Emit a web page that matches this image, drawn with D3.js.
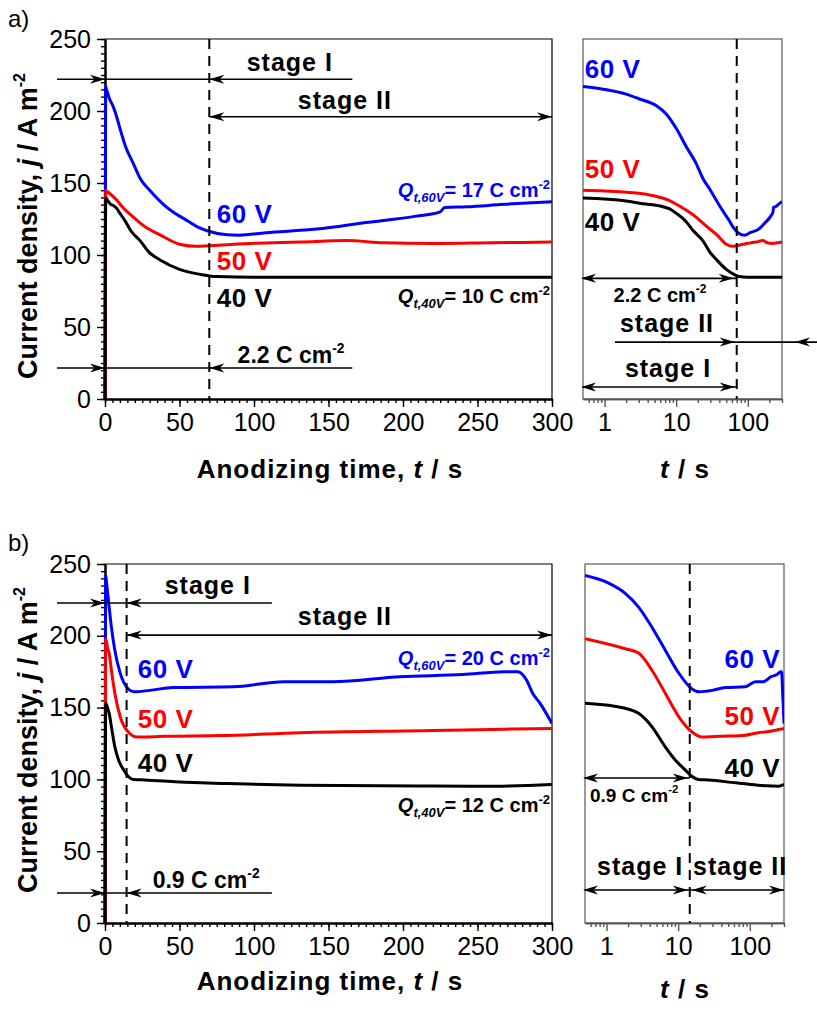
<!DOCTYPE html>
<meta charset="utf-8">
<style>
body { margin: 0; background: #fff; }
svg text { font-family: "Liberation Sans", Arial, sans-serif; }
</style>
<script src="https://d3js.org/d3.v7.min.js"></script>
<div id="chart"></div>
<script>

// ---------------------------//
//       DATA  [t (s), j (A m-2)]
// ---------------------------//
// a) series
var a60 = [[0,0],[0.5,217],[1,215],[2,211.7],[3,208.5],[5.3,203.6],[7.3,197.8],[10,188],[13.9,175],[18.8,164],[23.7,153],[30,145],[40.5,134],[50,127],[55,124],[62,119.5],[69.5,116.5],[82,114],[90,113.8],[108,115.5],[142,118],[175,122.5],[209,127],[225,130],[228,133],[243,133.5],[265,135],[280,136],[300,137]];
var a50 = [[0,0],[0.5,145],[1,144.5],[3.4,142.5],[5,141],[8.1,137.8],[12,133],[17.2,128],[26.4,120],[37,114],[50,107.5],[61,106],[70,106.5],[97,108],[131,109],[162,110],[187,108.5],[220,108],[260,108.5],[300,109]];
var a40 = [[0,0],[0.5,139.5],[2,137.5],[3.4,135.6],[6,134],[8.1,132],[10,129],[13.9,123],[17.2,117],[23.5,110],[29.5,102],[37,96.5],[50,90],[64,86.5],[75,85],[100,84.5],[150,84.5],[200,84.5],[250,84.5],[300,84.5]];
// b) series
var b60 = [[0,0],[0.5,242],[1.07,236.7],[1.82,229.6],[2.8,220],[4.3,206],[6.6,190],[10.2,174],[15.6,163],[19.4,161],[30,162],[45.6,164],[86,164.5],[120,168],[153,168],[198,171.5],[240,173],[268,175],[277,175],[283,169],[287,160],[292,153],[300,139]];
var b50 = [[0,0],[0.5,198],[1.82,191],[2.8,188],[4.3,176],[6.6,160],[10.2,143.6],[15.6,133],[21.6,129.5],[40,130],[78,130.5],[131,132.5],[220,134],[268,135],[300,135.5]];
var b40 = [[0,0],[0.5,153],[1.82,149.5],[2.8,146],[4.3,136.7],[6.6,122.7],[9.1,113.5],[12.6,106.5],[15.6,102],[19,100],[26.6,99.6],[64,97.6],[78,97.2],[131,96],[220,95.4],[254,95.2],[300,96.5]];

var seriesColors = ["#0000ff", "#ff0000", "#000000"];   // 60 V, 50 V, 40 V
var voltLabels = ["60 V", "50 V", "40 V"];

var xTicks = [0, 50, 100, 150, 200, 250, 300];
var yTicks = [0, 50, 100, 150, 200, 250];
var logTicks = [1, 10, 100];
var logMinor = [0.6, 0.7, 0.8, 0.9, 2, 3, 4, 5, 6, 7, 8, 9, 20, 30, 40, 50, 60, 70, 80, 90, 200, 300];

var stageEndA = 70;     // end of stage I, a)
var stageEndB = 14.5;   // end of stage I, b)

var svg = d3.select("#chart").append("svg")
    .attr("width", 817)
    .attr("height", 1012);

var FONT = '"Liberation Sans", Arial, sans-serif';

function styleAxis(sel, color) {
  sel.attr("font-family", FONT).attr("font-size", 25);
  sel.selectAll("text").attr("fill", "#000");
  sel.selectAll("line").attr("stroke", color).attr("stroke-width", 1.4);
  sel.select(".domain").attr("stroke", color).attr("stroke-width", color === "#000" ? 2 : 1.3);
}

// ---------------------------//
//       PANELS               //
// ---------------------------//
function mainPanel(top, bottom, id) {
  var x = d3.scaleLinear().domain([0, 300]).range([105, 552]);
  var y = d3.scaleLinear().domain([0, 250]).range([bottom, top]);

  svg.append("path")
    .attr("d", "M105," + top + "H552V" + bottom)
    .attr("fill", "none").attr("stroke", "#000").attr("stroke-width", 1.2);

  svg.append("g").attr("transform", "translate(0," + bottom + ")")
    .call(d3.axisBottom(x).tickValues(d3.range(0, 301, 5)).tickSize(4).tickSizeOuter(0).tickFormat(""))
    .call(styleAxis, "#000");
  svg.append("g").attr("transform", "translate(0," + bottom + ")")
    .call(d3.axisBottom(x).tickValues(xTicks).tickSize(8).tickSizeOuter(0).tickPadding(6))
    .call(styleAxis, "#000");

  svg.append("g").attr("transform", "translate(105,0)")
    .call(d3.axisLeft(y).tickValues(d3.range(0, 251, 5)).tickSize(4).tickSizeOuter(0).tickFormat(""))
    .call(styleAxis, "#000");
  svg.append("g").attr("transform", "translate(105,0)")
    .call(d3.axisLeft(y).tickValues(yTicks).tickSize(8).tickSizeOuter(0).tickPadding(6))
    .call(styleAxis, "#000");

  svg.append("clipPath").attr("id", id)
    .append("rect").attr("x", 103).attr("y", top).attr("width", 449).attr("height", bottom - top);

  return { x: x, y: y, clip: id, log: false, top: top, bottom: bottom };
}

function logPanel(left, right, top, bottom, id) {
  var x = d3.scaleLog().domain([0.5, 300]).range([left, right]);
  var y = d3.scaleLinear().domain([0, 250]).range([bottom, top]);

  svg.append("rect")
    .attr("x", left).attr("y", top).attr("width", right - left).attr("height", bottom - top)
    .attr("fill", "none").attr("stroke", "#666").attr("stroke-width", 1.3);

  svg.append("g").attr("transform", "translate(0," + bottom + ")")
    .call(d3.axisBottom(x).tickValues(logMinor).tickSize(4).tickSizeOuter(0).tickFormat(""))
    .call(styleAxis, "#555");
  svg.append("g").attr("transform", "translate(0," + bottom + ")")
    .call(d3.axisBottom(x).tickValues(logTicks).tickSize(8).tickSizeOuter(0).tickPadding(6).tickFormat(d3.format("d")))
    .call(styleAxis, "#555");

  svg.append("clipPath").attr("id", id)
    .append("rect").attr("x", left).attr("y", top).attr("width", right - left).attr("height", bottom - top);

  return { x: x, y: y, clip: id, log: true, top: top, bottom: bottom };
}

function curves(p, list) {
  var line = d3.line()
    .x(function (d) { return p.x(d[0]); })
    .y(function (d) { return p.y(d[1]); })
    .curve(d3.curveMonotoneX);
  list.forEach(function (data, i) {
    svg.append("path")
      .datum(p.log ? data.filter(function (d) { return d[0] > 0; }) : data)
      .attr("clip-path", "url(#" + p.clip + ")")
      .attr("fill", "none")
      .attr("stroke", seriesColors[i])
      .attr("stroke-width", 3)
      .attr("stroke-linejoin", "round")
      .attr("d", line);
  });
}

function dashed(p, t) {
  svg.append("line")
    .attr("x1", p.x(t)).attr("x2", p.x(t))
    .attr("y1", p.top).attr("y2", p.bottom)
    .attr("stroke", "#000").attr("stroke-width", 2).attr("stroke-dasharray", "10,7");
}

// ---------------------------//
//       ARROWS  / TEXT       //
// ---------------------------//
function head(xTip, yy, dir) {
  var L = 15 * dir, W = 4.5;
  svg.append("path")
    .attr("d", "M" + xTip + "," + yy + "L" + (xTip - L) + "," + (yy - W) +
               "L" + (xTip - L * 0.7) + "," + yy + "L" + (xTip - L) + "," + (yy + W) + "Z")
    .attr("fill", "#000");
}

function hline(x1, x2, yy, heads) {
  svg.append("line").attr("x1", x1).attr("x2", x2).attr("y1", yy).attr("y2", yy)
    .attr("stroke", "#000").attr("stroke-width", 1.6);
  heads.forEach(function (h) { head(h[0], yy, h[1]); });
}

function label(x, y, txt, size, color, anchor, spacing) {
  return svg.append("text")
    .attr("x", x).attr("y", y)
    .attr("font-size", size).attr("font-weight", "bold")
    .attr("letter-spacing", spacing || 0)
    .attr("fill", color || "#000")
    .attr("text-anchor", anchor || "start")
    .text(txt);
}

function stage(x, y, txt, anchor) {
  return label(x, y, txt, 25, "#000", anchor, 1);
}

function charge(x, y, txt, size, anchor) {
  var t = svg.append("text")
    .attr("x", x).attr("y", y)
    .attr("font-size", size).attr("font-weight", "bold")
    .attr("text-anchor", anchor || "start");
  t.append("tspan").text(txt + " C cm");
  t.append("tspan").attr("font-size", size * 0.6).attr("dy", -size * 0.45).text("-2");
}

function qLabel(x, y, sub, val, color) {
  var t = svg.append("text")
    .attr("x", x).attr("y", y)
    .attr("font-size", 20).attr("font-weight", "bold")
    .attr("fill", color).attr("text-anchor", "end");
  t.append("tspan").attr("font-style", "italic").text("Q");
  t.append("tspan").attr("font-style", "italic").attr("font-size", 13).attr("dy", 5).text(sub);
  t.append("tspan").attr("dy", -5).text("= " + val + " C cm");
  t.append("tspan").attr("font-size", 13).attr("dy", -8).text("-2");
}

function xTitle(cx, y, pre) {
  var t = svg.append("text")
    .attr("x", cx).attr("y", y)
    .attr("font-size", 26).attr("font-weight", "bold")
    .attr("letter-spacing", 1)
    .attr("text-anchor", "middle");
  if (pre) t.append("tspan").text(pre);
  t.append("tspan").attr("font-style", "italic").text("t");
  t.append("tspan").text(" / s");
}

function yTitle(x, cy) {
  var t = svg.append("text")
    .attr("transform", "translate(" + x + "," + cy + ") rotate(-90)")
    .attr("font-size", 27).attr("font-weight", "bold")
    .attr("text-anchor", "middle");
  t.append("tspan").text("Current density, ");
  t.append("tspan").attr("font-style", "italic").text("j");
  t.append("tspan").text(" / A m");
  t.append("tspan").attr("font-size", 16).attr("dy", -12).text("-2");
}

// ---------------------------//
//       PANEL a)             //
// ---------------------------//
var pa = mainPanel(39, 399, "clipA");
var pal = logPanel(583, 782, 39, 399, "clipAL");

curves(pa, [a60, a50, a40]);
curves(pal, [a60, a50, a40]);
dashed(pa, stageEndA);
dashed(pal, stageEndA);

// stage arrows main a
hline(57, pa.x(166), pa.y(222), [[pa.x(0), 1], [pa.x(stageEndA), -1]]);
stage(pa.x(124), pa.y(222) - 8, "stage I", "middle");
hline(pa.x(stageEndA), pa.x(300), pa.y(196), [[pa.x(stageEndA), -1], [pa.x(300), 1]]);
stage(pa.x(161), pa.y(196) - 8, "stage II", "middle");
hline(57, pa.x(166), pa.y(21.5), [[pa.x(0), 1], [pa.x(stageEndA), -1]]);
charge(pa.x(89), pa.y(21.5) - 5, "2.2", 23, "start");

// log a
hline(pal.x(0.5), pal.x(stageEndA), pa.y(83.8), [[pal.x(0.5) - 2, -1], [pal.x(stageEndA) - 3, 1]]);
charge(660, 302, "2.2", 20, "middle");
hline(615, pal.x(stageEndA), pa.y(39.5), [[pal.x(stageEndA) - 2, 1]]);
hline(pal.x(stageEndA), 817, pa.y(39.5), [[795, -1]]);
stage(667, 332, "stage II", "middle");
hline(pal.x(0.5), pal.x(stageEndA), pa.y(8.3), [[pal.x(0.5) - 2, -1], [pal.x(stageEndA) - 2, 1]]);
stage(668, 377, "stage I", "middle");

// voltage labels a
[122, 89.3, 63.7].forEach(function (j, i) {
  label(pa.x(75), pa.y(j), voltLabels[i], 26, seriesColors[i], "start", 0.5);
});
[223, 153.7, 117].forEach(function (j, i) {
  label(pal.x(0.53), pa.y(j), voltLabels[i], 26, seriesColors[i], "start", 0.5);
});
qLabel(550, pa.y(140), "t,60V", 17, "#0000ff");
qLabel(550, pa.y(67), "t,40V", 10, "#000");

// ---------------------------//
//       PANEL b)             //
// ---------------------------//
var pb = mainPanel(564, 923, "clipB");
var pbl = logPanel(585, 784, 564, 923, "clipBL");

curves(pb, [b60, b50, b40]);
curves(pbl, [b60, b50, b40]);
dashed(pb, stageEndB);
dashed(pbl, stageEndB);

hline(57, pb.x(112), pb.y(222.8), [[pb.x(0), 1], [pb.x(stageEndB), -1]]);
stage(pb.x(69), pb.y(222.8) - 9, "stage I", "middle");
hline(pb.x(stageEndB), pb.x(300), pb.y(200.5), [[pb.x(stageEndB), -1], [pb.x(300), 1]]);
stage(pb.x(161), pb.y(200.5) - 10, "stage II", "middle");
hline(57, pb.x(112), pb.y(20.9), [[pb.x(0), 1], [pb.x(stageEndB), -1]]);
charge(pb.x(32), pb.y(20.9) - 5, "0.9", 23, "start");

// log b
hline(pbl.x(0.5), pbl.x(stageEndB), pb.y(101), [[pbl.x(0.5) - 2, -1], [pbl.x(stageEndB) - 2, 1]]);
charge(590, 802, "0.9", 19, "start");
hline(pbl.x(0.5), pbl.x(300), pb.y(23), [[pbl.x(0.5) - 2, -1], [pbl.x(stageEndB) - 2, 1], [pbl.x(stageEndB) + 2, -1], [pbl.x(300), 1]]);
stage(597, 875, "stage I", "start");
stage(693, 875, "stage II", "start");

[170.6, 135.8, 105].forEach(function (j, i) {
  label(pb.x(22), pb.y(j), voltLabels[i], 26, seriesColors[i], "start", 0.5);
});
[177.6, 137.9, 101.7].forEach(function (j, i) {
  label(780, pb.y(j), voltLabels[i], 26, seriesColors[i], "end", 0.5);
});
qLabel(550, pb.y(180), "t,60V", 20, "#0000ff");
qLabel(550, pb.y(77.3), "t,40V", 12, "#000");

// ---------------------------//
//       TITLES               //
// ---------------------------//
xTitle(330, 478, "Anodizing time, ");
xTitle(685, 478, null);
xTitle(330, 990, "Anodizing time, ");
xTitle(685, 998, null);
yTitle(37, 226);
yTitle(37, 740);

svg.append("text").attr("x", 8).attr("y", 27).attr("font-size", 24).text("a)");
svg.append("text").attr("x", 8).attr("y", 551).attr("font-size", 24).text("b)");

</script>
